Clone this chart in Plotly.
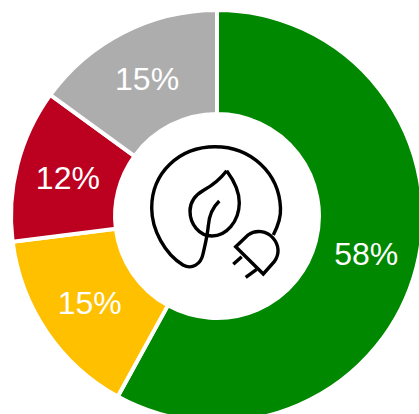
import plotly.graph_objects as go

categories = ["Green", "Yellow", "Red", "Grey"]
values = [58, 15, 12, 15]
colors = ["#008800", "#FFC000", "#BC0020", "#ADADAD"]

W, H = 434, 434           # canvas slightly larger than the window: the ring runs off the edge
CX, CY, R = 217, 216, 206

def X(p): return p / W
def Y(p): return 1 - p / H

def path(cmds):
    out = []
    for c in cmds:
        if isinstance(c, str):
            out.append(c)
        else:
            out.append(f"{X(c[0]):.5f},{Y(c[1]):.5f}")
    return " ".join(out)

cord = ["M", (273.3, 235),
        "C", (279, 224), (281, 216), (280.5, 208),
        "C", (279, 173), (251, 146.7), (215, 146.7),
        "C", (179, 146.7), (151.7, 173), (151.7, 208),
        "C", (151.7, 230), (165, 254), (183, 265),
        "C", (192, 270), (201, 264), (203, 254),
        "C", (205, 245), (207, 238), (208.3, 226),
        "C", (209, 215), (213, 207), (219.3, 201)]
leaf = ["M", (226.7, 170.7),
        "C", (235, 182), (239.5, 192), (239.3, 203),
        "C", (239, 222), (226, 236), (212, 236),
        "C", (199, 236), (190, 224), (190, 211),
        "C", (190, 201), (197, 194), (204, 190),
        "C", (213, 185), (221, 178), (226.7, 170.7)]
plug = ["M", (235.7, 246.7), "L", (248, 235),
        "C", (256, 229), (267, 231), (273, 238),
        "C", (279, 245), (280, 254), (274, 262),
        "L", (263.3, 274), "Z"]
prong1 = ["M", (241.7, 256.7), "L", (233.3, 264.3)]
prong2 = ["M", (256.7, 269.3), "L", (245.7, 277.3)]

shapes = [dict(type="path", xref="paper", yref="paper", path=path(p),
               line=dict(color="#000000", width=3.4), fillcolor="rgba(0,0,0,0)")
          for p in (cord, leaf, plug, prong1, prong2)]

fig = go.Figure(go.Pie(
    labels=categories, values=values, sort=False, direction="clockwise", rotation=0,
    hole=0.495,
    domain=dict(x=[X(CX - R), X(CX + R)], y=[Y(CY + R), Y(CY - R)]),
    marker=dict(colors=colors, line=dict(color="#FFFFFF", width=4)),
    texttemplate="%{value}%", textposition="inside", insidetextorientation="horizontal",
    textfont=dict(family="Liberation Sans, Arial, sans-serif", size=32, color="#FFFFFF"),
    showlegend=False, hoverinfo="label+percent",
))
fig.update_layout(width=W, height=H, margin=dict(l=0, r=0, t=0, b=0),
                  paper_bgcolor="#FFFFFF", plot_bgcolor="#FFFFFF", shapes=shapes)
fig.write_html("out.html", config=dict(displayModeBar=False),
               post_script="document.documentElement.style.overflow='hidden';document.body.style.overflow='hidden';document.body.style.margin='0';")
